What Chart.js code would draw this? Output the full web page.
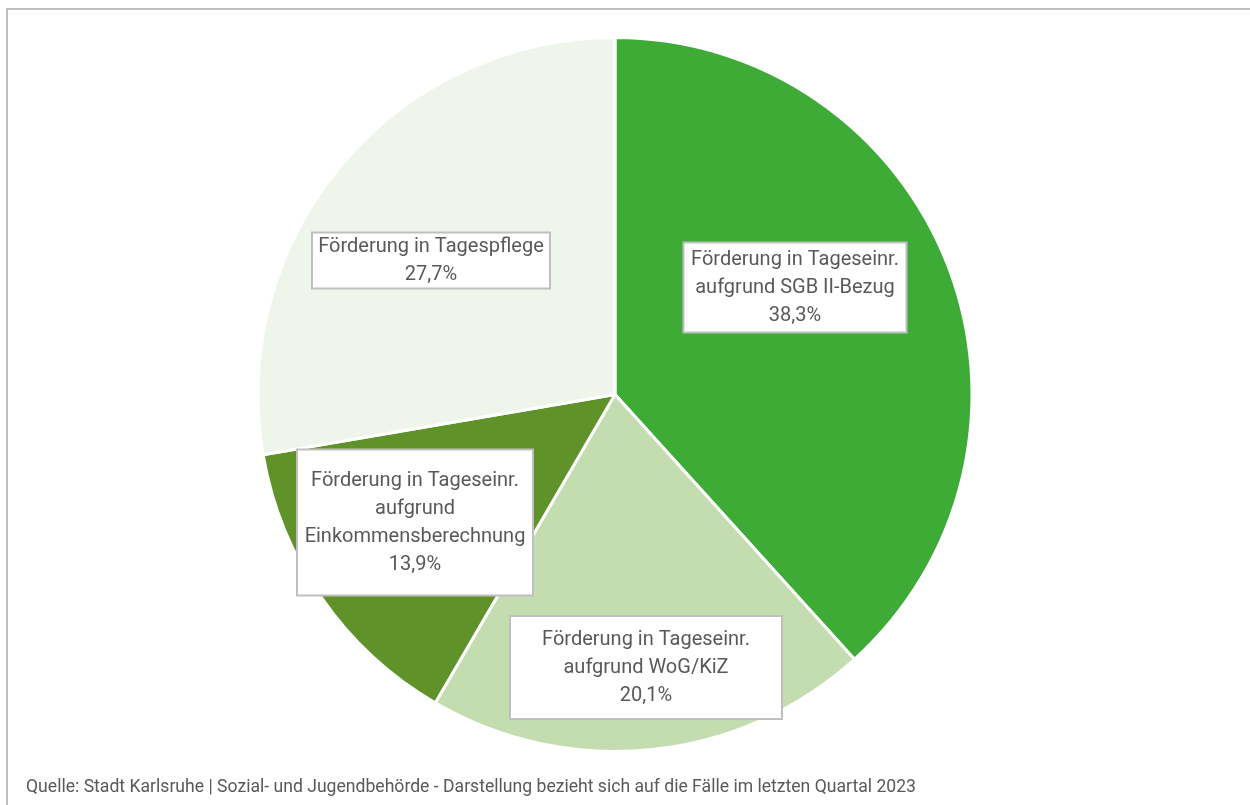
<!DOCTYPE html>
<html>
<head>
<meta charset="utf-8">
<script src="https://cdn.jsdelivr.net/npm/chart.js@4.4.0/dist/chart.umd.min.js"></script>
<style>
    body { margin: 0; background: #fff; overflow: hidden; }
    #wrap { position: relative; width: 1250px; height: 805px; }
    #frame { position: absolute; left: 6px; top: 8px; width: 1300px; height: 900px; border: 2px solid #bfbfbf; box-sizing: border-box; }
    #pie { position: absolute; left: 0; top: 0; }
    #source { position: absolute; left: 26px; top: 776px; font-family: Roboto, sans-serif; font-size: 17.6px; color: #595959; white-space: nowrap; }
</style>
</head>
<body>
<div id="wrap">
    <div id="frame"></div>
    <canvas id="pie" width="1250" height="805"></canvas>
    <div id="source">Quelle: Stadt Karlsruhe | Sozial- und Jugendbehörde - Darstellung bezieht sich auf die Fälle im letzten Quartal 2023</div>
</div>
<script>
// data (share of cases, %)
var categories = [
    ["Förderung in Tageseinr.", "aufgrund SGB II-Bezug"],
    ["Förderung in Tageseinr.", "aufgrund WoG/KiZ"],
    ["Förderung in Tageseinr.", "aufgrund", "Einkommensberechnung"],
    ["Förderung in Tagespflege"]
];
var shares = [38.3, 20.1, 13.9, 27.7];
var colors = ["#3dab35", "#c4ddb0", "#60922a", "#f0f5eb"];

// label boxes placed like in excel, offsets from pie centre in px (radius 357)
var boxes = [
    {dx: 180, dy: -107, w: 223, h: 90},
    {dx: 31, dy: 273, w: 272, h: 103},
    {dx: -200, dy: 128, w: 236, h: 146},
    {dx: -184, dy: -134, w: 238, h: 56}
];

function fmt(v) {
    return v.toFixed(1).replace(".", ",") + "%";
}

var boxLabels = {
    id: "boxLabels",
    afterDatasetsDraw: function (chart) {
        var ctx = chart.ctx;
        var meta = chart.getDatasetMeta(0);
        var total = shares.reduce(function (a, b) { return a + b; }, 0);
        meta.data.forEach(function (arc, i) {
            var k = arc.outerRadius / 357;
            var b = boxes[i];
            var cx = arc.x + b.dx * k, cy = arc.y + b.dy * k;
            var w = b.w * k, h = b.h * k;
            ctx.save();
            ctx.fillStyle = "#fff";
            ctx.fillRect(cx - w / 2, cy - h / 2, w, h);
            ctx.strokeStyle = "#bfbfbf";
            ctx.lineWidth = 2;
            ctx.strokeRect(cx - w / 2, cy - h / 2, w, h);
            var lines = categories[i].concat([fmt(shares[i] / total * 100)]);
            var lh = 28;
            ctx.fillStyle = "#595959";
            ctx.font = "20px Roboto";
            ctx.textAlign = "center";
            ctx.textBaseline = "middle";
            var y0 = cy - (lines.length - 1) * lh / 2;
            lines.forEach(function (t, j) {
                ctx.fillText(t, cx, y0 + j * lh);
            });
            ctx.restore();
        });
    }
};

var pie_chart = new Chart(document.getElementById("pie"), {
    type: "pie",
    data: {
        labels: categories.map(function (c) { return c.join(" "); }),
        datasets: [{
            data: shares,
            backgroundColor: colors,
            borderColor: "#ffffff",
            borderWidth: 3
        }]
    },
    options: {
        responsive: false,
        animation: false,
        layout: { padding: { top: 36, bottom: 52, left: 256, right: 276 } },
        plugins: {
            legend: { display: false },
            tooltip: { enabled: false }
        }
    },
    plugins: [boxLabels]
});
</script>
</body>
</html>
